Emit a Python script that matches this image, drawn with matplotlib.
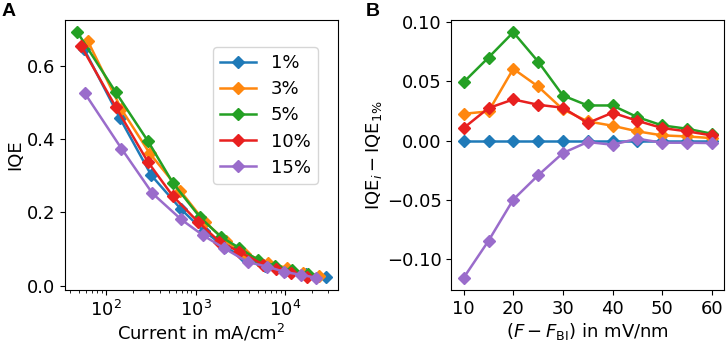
import numpy as np
import matplotlib
matplotlib.use("Agg")
import matplotlib.pyplot as plt

# panel A: current (mA/cm^2) and IQE per doping level
labels = ["1%", "3%", "5%", "10%", "15%"]

cur_1 = [57, 143, 321, 693, 1230, 2150, 3600, 6000, 10000, 17000, 28300]
iqe_1 = [0.645, 0.457, 0.301, 0.208, 0.150, 0.105, 0.075, 0.055, 0.041, 0.031, 0.024]

cur_3 = [63, 149, 308, 675, 1260, 2200, 3600, 6500, 10600, 16000, 23900]
iqe_3 = [0.666, 0.481, 0.361, 0.259, 0.175, 0.121, 0.087, 0.063, 0.048, 0.036, 0.028]

cur_5 = [48, 129, 295, 560, 1120, 1930, 3050, 5000, 7800, 11800, 18000]
iqe_5 = [0.691, 0.527, 0.394, 0.280, 0.187, 0.133, 0.104, 0.070, 0.054, 0.042, 0.032]

cur_10 = [53, 129, 295, 560, 1060, 1850, 3080, 5700, 8000, 11600, 17700]
iqe_10 = [0.653, 0.487, 0.337, 0.244, 0.175, 0.120, 0.093, 0.058, 0.046, 0.036, 0.024]

cur_15 = [58, 149, 330, 690, 1205, 2100, 3810, 6350, 9760, 14900, 22300]
iqe_15 = [0.525, 0.374, 0.252, 0.181, 0.138, 0.102, 0.065, 0.052, 0.038, 0.030, 0.022]

# panel B: IQE difference to 1% vs field
field = [10, 15, 20, 25, 30, 35, 40, 45, 50, 55, 60]
d_1 = [0, 0, 0, 0, 0, 0, 0, 0, 0, 0, 0]
d_3 = [0.0227, 0.0247, 0.0606, 0.0457, 0.0264, 0.0163, 0.0126, 0.0079, 0.0045, 0.0036, 0.0022]
d_5 = [0.0494, 0.0701, 0.0914, 0.0667, 0.0381, 0.0297, 0.0297, 0.0199, 0.0129, 0.0101, 0.0059]
d_10 = [0.0107, 0.0275, 0.0348, 0.0303, 0.0278, 0.0149, 0.0236, 0.0168, 0.0107, 0.0079, 0.0045]
d_15 = [-0.1155, -0.0844, -0.0496, -0.0292, -0.0104, -0.0011, -0.0034, 0.0017, -0.0017, -0.0017, -0.0020]

colors = ["#1f7ab8", "#ff870e", "#24a024", "#e8201f", "#9a6ccb"]

plt.rcParams["font.size"] = 13
fig = plt.figure(figsize=(7.26, 3.46), dpi=100)
axA = fig.add_axes([65 / 726, 1 - 290 / 346, 273 / 726, 270 / 346])
axB = fig.add_axes([451.3 / 726, 1 - 290 / 346, 272.8 / 726, 270 / 346])

style = dict(marker="D", markersize=6, linewidth=1.8)

curs = [cur_1, cur_3, cur_5, cur_10, cur_15]
iqes = [iqe_1, iqe_3, iqe_5, iqe_10, iqe_15]
for c, q, lab, col in zip(curs, iqes, labels, colors):
    axA.plot(c, q, color=col, label=lab, **style)
axA.set_xscale("log")
axA.set_yticks([0.0, 0.2, 0.4, 0.6])
axA.set_ylabel("IQE", labelpad=2)
axA.set_xlabel("Current in mA/cm$^2$", labelpad=2)
axA.legend(loc="upper right", bbox_to_anchor=(0.927, 0.90), borderaxespad=0,
           handlelength=2.0, labelspacing=0.45)

diffs = [d_1, d_3, d_5, d_10, d_15]
for d, col in zip(diffs, colors):
    axB.plot(field, d, color=col, **style)
axB.set_xticks([10, 20, 30, 40, 50, 60])
axB.set_ylabel(r"IQE$_i - $IQE$_{1\%}$", labelpad=2)
axB.set_xlabel(r"$(F - F_{\mathrm{BI}})$ in mV/nm", labelpad=2)

fig.text(2 / 726, 1 - 3 / 346, "A", fontsize=14, fontweight="bold", va="top", family="Liberation Sans")
fig.text(366 / 726, 1 - 3 / 346, "B", fontsize=14, fontweight="bold", va="top", family="Liberation Sans")

fig.savefig("out.png", dpi=100)
